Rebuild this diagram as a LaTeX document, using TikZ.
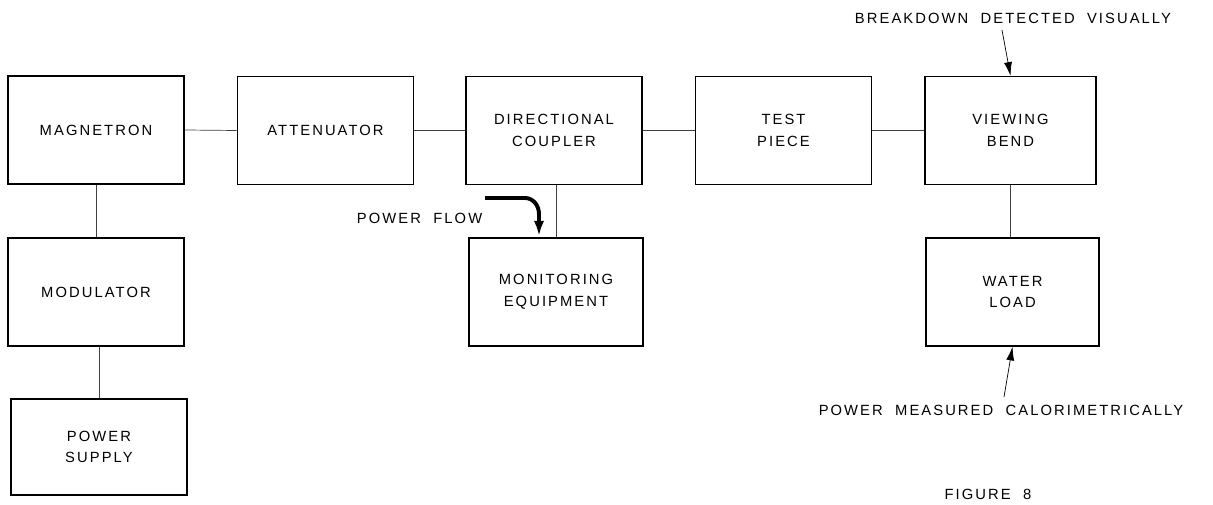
\documentclass[tikz,border=0pt]{standalone}
\usepackage{fontspec}
\setmainfont{Liberation Sans}[LetterSpace=14,WordSpace=2]
\usetikzlibrary{arrows.meta}

\begin{document}
\begin{tikzpicture}[
    x=0.025cm, y=-0.025cm,
    >={Latex[length=3.4mm,width=2mm]},
    every node/.style={font=\fontsize{10.5}{15.5}\selectfont, align=center},
    block/.style={draw, line width=1.1pt, minimum width=4.4cm, minimum height=2.7cm, inner sep=0pt},
    link/.style={line width=0.5pt, black!75},
    note/.style={line width=0.5pt, ->},
    flow/.style={line width=2.8pt, ->, >={Latex[length=3.8mm,width=2.6mm]}},
]
\useasboundingbox (0,0) rectangle (1213,505);

% --- Main chain ---
\node[block] (mag) at (96,130) {MAGNETRON};
\node[block] (att) at (325.5,130.5) {ATTENUATOR};
\node[block] (dc)  at (554,130.5) {DIRECTIONAL\\COUPLER};
\node[block] (tp)  at (783.5,130.5) {TEST\\PIECE};
\node[block, minimum width=4.28cm] (vb) at (1010.5,130.5) {VIEWING\\BEND};

% --- Supply branch ---
\node[block] (mod) at (96,292) {MODULATOR};
\node[block, minimum height=2.4cm] (ps) at (99,447) {POWER\\SUPPLY};

% --- Side branches ---
\node[block, minimum width=4.35cm] (mon) at (556,292) {MONITORING\\EQUIPMENT};
\node[block, minimum width=4.33cm] (wl)  at (1012.5,292) {WATER\\LOAD};

% --- Connections ---
\draw[link] (mag.east) -- (att.west);
\draw[link] (att.east) -- (dc.west);
\draw[link] (dc.east) -- (tp.west);
\draw[link] (tp.east) -- (vb.west);
\draw[link] (mag.south) -- (mag.south |- mod.north);
\draw[link] (ps.north) -- (ps.north |- mod.south);
\draw[link] (mon.north) -- (mon.north |- dc.south);
\draw[link] (vb.south) -- (vb.south |- wl.north);

% --- Power flow ---
\node[anchor=west] (pf) at (352,218) {POWER FLOW};
\coordinate (pfa) at (485,198);
\coordinate (pfb) at (539,236);
\draw[flow] (pfa) -- ++(40,0) to[out=0,in=90] ++(14,16) -- (pfb);

% --- Notes ---
\node (bd) at (1013,18) {BREAKDOWN DETECTED VISUALLY};
\coordinate (bda) at (1002,30);
\draw[note] (bda) -- (vb.north);

\node (pm) at (1001,410) {POWER MEASURED CALORIMETRICALLY};
\coordinate (pma) at (1004,397);
\draw[note] (pma) -- (wl.south);

\node (fig) at (988,494) {FIGURE 8};

\end{tikzpicture}
\end{document}
